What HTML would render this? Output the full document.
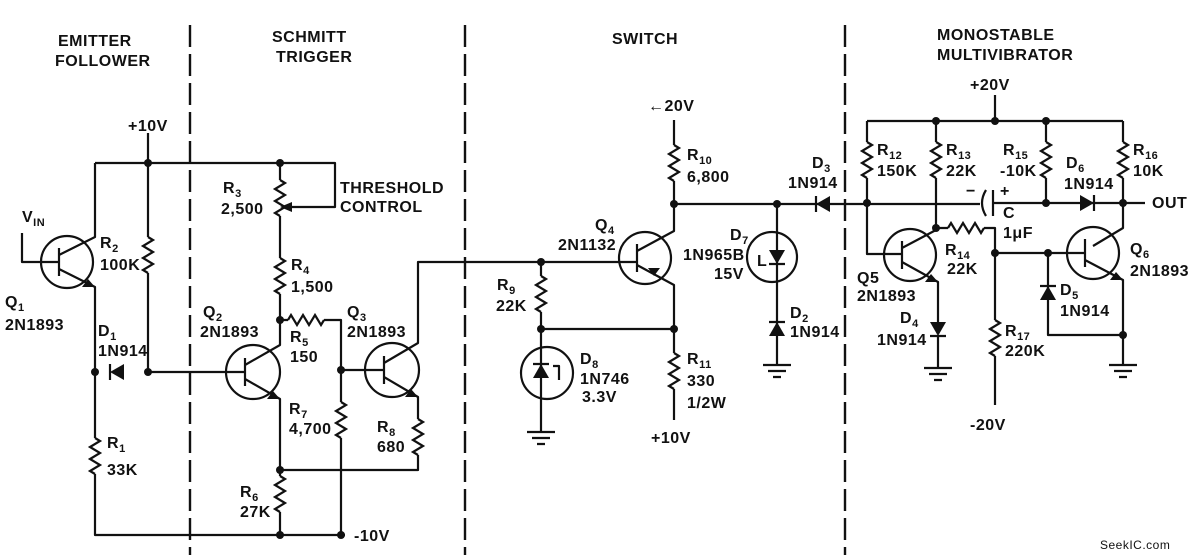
<!DOCTYPE html>
<html><head><meta charset="utf-8"><style>
html,body{margin:0;padding:0;background:#fff;}
svg{display:block}
text{font-family:"Liberation Sans",sans-serif;font-size:16px;font-weight:bold;fill:#111;letter-spacing:0.5px}
.s{font-size:11px}
</style></head><body>
<svg width="1194" height="560" viewBox="0 0 1194 560" xmlns="http://www.w3.org/2000/svg">
<defs>
<path id="rv" d="M0 0 l5 3 l-10 6 l10 6 l-10 6 l10 6 l-10 6 l5 3" fill="none" stroke="#111" stroke-width="2.2"/>
<path id="rh" d="M0 0 l3 -5 l6 10 l6 -10 l6 10 l6 -10 l6 10 l3 -5" fill="none" stroke="#111" stroke-width="2.2"/>
</defs>
<g stroke="#111" stroke-width="2.4" stroke-dasharray="22 7" fill="none">
<line x1="190" y1="25" x2="190" y2="555"/>
<line x1="465" y1="25" x2="465" y2="555"/>
<line x1="845" y1="25" x2="845" y2="555"/>
</g>
<g stroke="#111" stroke-width="2.2" fill="none" stroke-linejoin="round">
<!-- Emitter follower -->
<path d="M148 133 V237 M148 273 V372"/>
<path d="M95 163 H335 V207 H286"/>
<circle cx="67" cy="262" r="26"/>
<path d="M22 233 V262 H59 M59 248 V276 M59 255 L95 237 V163 M59 269 L95 287 V438 M95 474 V535 H345"/>
<path d="M110 364 V380"/>
<!-- Schmitt -->
<circle cx="253" cy="372" r="27"/>
<path d="M148 372 H245 M245 358 V386 M245 365 L280 345 V294 M280 258 V216 M280 180 V163"/>
<path d="M245 379 L280 399 V476 M280 512 V535"/>
<path d="M280 320 H288 M324 320 H341 V402 M341 438 V535"/>
<path d="M280 470 H418 V455"/>
<circle cx="392" cy="370" r="27"/>
<path d="M341 370 H384 M384 356 V384 M384 363 L418 343 V262 H637 M384 377 L418 397 V419"/>
<!-- Switch -->
<path d="M541 262 V276 M541 312 V329 H674"/>
<circle cx="645" cy="258" r="26"/>
<path d="M637 244 V272 M637 251 L674 231 V181 M674 145 V120 M637 265 L674 285 V353 M674 389 V420"/>
<path d="M674 204 H980"/>
<path d="M816 196 V212"/>
<path d="M777 204 V365"/>
<circle cx="772" cy="257" r="25"/>
<path d="M769 264 H785 M769 322 H785"/>
<path d="M763 365 H791 M768 371 H786 M773 377 H781"/>
<circle cx="547" cy="373" r="26"/>
<path d="M541 329 V432 M533 364 H549 M553 366 H559 V380"/>
<path d="M527 432 H555 M532 438 H550 M537 444 H545"/>
<!-- Monostable -->
<path d="M995 95 V121 M867 121 H1123"/>
<path d="M867 121 V142 M867 178 V254 H902"/>
<path d="M936 121 V142 M936 178 V228"/>
<circle cx="910" cy="255" r="26"/>
<path d="M902 241 V269 M902 248 L936 230 M902 262 L938 282 V322 M938 336 V368 M930 336 H946"/>
<path d="M924 368 H952 M929 374 H947 M934 380 H942"/>
<path d="M936 228 H948 M984 228 H995 V320 M995 356 V405 M995 253 H1085"/>
<path d="M986 190 Q978 203 986 216 M993 190 V216 M993 203 H1145"/>
<path d="M1046 121 V142 M1046 178 V203 M1094 195 V211"/>
<path d="M1123 121 V142 M1123 178 V228 L1093 246"/>
<circle cx="1093" cy="253" r="26"/>
<path d="M1085 239 V267 M1085 260 L1123 280 V365 M1048 253 V335 H1123 M1040 286 H1056"/>
<path d="M1109 365 H1137 M1114 371 H1132 M1119 377 H1127"/>
</g>
<!-- resistors -->
<use href="#rv" x="148" y="237"/>
<use href="#rv" x="95" y="438"/>
<use href="#rv" x="280" y="180"/>
<use href="#rv" x="280" y="258"/>
<use href="#rv" x="280" y="476"/>
<use href="#rv" x="341" y="402"/>
<use href="#rv" x="418" y="419"/>
<use href="#rh" x="288" y="320"/>
<use href="#rv" x="541" y="276"/>
<use href="#rv" x="674" y="145"/>
<use href="#rv" x="674" y="353"/>
<use href="#rv" x="867" y="142"/>
<use href="#rv" x="936" y="142"/>
<use href="#rv" x="1046" y="142"/>
<use href="#rv" x="1123" y="142"/>
<use href="#rh" x="948" y="228"/>
<use href="#rv" x="995" y="320"/>
<!-- arrows / diodes / dots -->
<g fill="#111" stroke="none">
<polygon points="280,207 292,202 292,212"/>
<polygon points="95,287 82,287 88,279" />
<polygon points="280,399 267,399 273,391"/>
<polygon points="418,397 405,397 411,389"/>
<polygon points="648,268 660,268 654,276"/>
<polygon points="938,282 925,282 931,274"/>
<polygon points="1123,280 1110,280 1116,272"/>
<polygon points="110,372 124,364 124,380"/>
<polygon points="816,204 830,196 830,212"/>
<polygon points="769,250 785,250 777,264"/>
<polygon points="777,322 769,336 785,336"/>
<polygon points="541,364 533,378 549,378"/>
<polygon points="930,322 946,322 938,336"/>
<polygon points="1080,195 1080,211 1094,203"/>
<polygon points="1048,286 1040,300 1056,300"/>
<circle cx="148" cy="163" r="4"/><circle cx="148" cy="372" r="4"/><circle cx="95" cy="372" r="4"/>
<circle cx="280" cy="163" r="4"/><circle cx="280" cy="320" r="4"/><circle cx="341" cy="370" r="4"/>
<circle cx="280" cy="470" r="4"/><circle cx="280" cy="535" r="4"/><circle cx="341" cy="535" r="4"/>
<circle cx="541" cy="262" r="4"/><circle cx="541" cy="329" r="4"/><circle cx="674" cy="329" r="4"/>
<circle cx="674" cy="204" r="4"/><circle cx="777" cy="204" r="4"/>
<circle cx="936" cy="121" r="4"/><circle cx="995" cy="121" r="4"/><circle cx="1046" cy="121" r="4"/>
<circle cx="867" cy="203" r="4"/><circle cx="1046" cy="203" r="4"/><circle cx="1123" cy="203" r="4"/>
<circle cx="936" cy="228" r="4"/><circle cx="995" cy="253" r="4"/><circle cx="1048" cy="253" r="4"/>
<circle cx="1123" cy="335" r="4"/>
</g>
<!-- headers -->
<text x="58" y="46">EMITTER</text><text x="55" y="66">FOLLOWER</text>
<text x="272" y="42">SCHMITT</text><text x="276" y="62">TRIGGER</text>
<text x="612" y="44">SWITCH</text>
<text x="937" y="40">MONOSTABLE</text><text x="937" y="60">MULTIVIBRATOR</text>
<!-- left labels -->
<text x="128" y="131">+10V</text>
<text x="22" y="222">V<tspan class="s" dy="4">IN</tspan></text>
<text x="100" y="248">R<tspan class="s" dy="4">2</tspan></text><text x="100" y="270">100K</text>
<text x="5" y="307">Q<tspan class="s" dy="4">1</tspan></text><text x="5" y="330">2N1893</text>
<text x="98" y="336">D<tspan class="s" dy="4">1</tspan></text><text x="98" y="356">1N914</text>
<text x="107" y="448">R<tspan class="s" dy="4">1</tspan></text><text x="107" y="475">33K</text>
<text x="223" y="193">R<tspan class="s" dy="4">3</tspan></text><text x="221" y="214">2,500</text>
<text x="340" y="193">THRESHOLD</text><text x="340" y="212">CONTROL</text>
<text x="291" y="270">R<tspan class="s" dy="4">4</tspan></text><text x="291" y="292">1,500</text>
<text x="203" y="317">Q<tspan class="s" dy="4">2</tspan></text><text x="200" y="337">2N1893</text>
<text x="290" y="342">R<tspan class="s" dy="4">5</tspan></text><text x="290" y="362">150</text>
<text x="347" y="317">Q<tspan class="s" dy="4">3</tspan></text><text x="347" y="337">2N1893</text>
<text x="289" y="414">R<tspan class="s" dy="4">7</tspan></text><text x="289" y="434">4,700</text>
<text x="377" y="432">R<tspan class="s" dy="4">8</tspan></text><text x="377" y="452">680</text>
<text x="240" y="497">R<tspan class="s" dy="4">6</tspan></text><text x="240" y="517">27K</text>
<text x="354" y="541">-10V</text>
<!-- switch labels -->
<text x="648" y="111">←20V</text>
<text x="687" y="160">R<tspan class="s" dy="4">10</tspan></text><text x="687" y="182">6,800</text>
<text x="595" y="230">Q<tspan class="s" dy="4">4</tspan></text><text x="558" y="250">2N1132</text>
<text x="497" y="290">R<tspan class="s" dy="4">9</tspan></text><text x="496" y="311">22K</text>
<text x="580" y="364">D<tspan class="s" dy="4">8</tspan></text><text x="580" y="384">1N746</text><text x="582" y="402">3.3V</text>
<text x="687" y="364">R<tspan class="s" dy="4">11</tspan></text><text x="687" y="386">330</text><text x="687" y="408">1/2W</text>
<text x="651" y="443">+10V</text>
<text x="812" y="168">D<tspan class="s" dy="4">3</tspan></text><text x="788" y="188">1N914</text>
<text x="730" y="240">D<tspan class="s" dy="4">7</tspan></text><text x="683" y="260">1N965B</text><text x="714" y="279">15V</text>
<text x="757" y="266">L</text>
<text x="790" y="318">D<tspan class="s" dy="4">2</tspan></text><text x="790" y="337">1N914</text>
<!-- monostable labels -->
<text x="970" y="90">+20V</text>
<text x="877" y="155">R<tspan class="s" dy="4">12</tspan></text><text x="877" y="176">150K</text>
<text x="946" y="155">R<tspan class="s" dy="4">13</tspan></text><text x="946" y="176">22K</text>
<text x="1003" y="155">R<tspan class="s" dy="4">15</tspan></text><text x="1000" y="176">-10K</text>
<text x="1066" y="168">D<tspan class="s" dy="4">6</tspan></text><text x="1064" y="189">1N914</text>
<text x="1133" y="155">R<tspan class="s" dy="4">16</tspan></text><text x="1133" y="176">10K</text>
<text x="966" y="196">−</text><text x="1000" y="196">+</text>
<text x="1003" y="218">C</text><text x="1003" y="238">1μF</text>
<text x="1152" y="208">OUT</text>
<text x="945" y="255">R<tspan class="s" dy="4">14</tspan></text><text x="947" y="274">22K</text>
<text x="857" y="283">Q5</text><text x="857" y="301">2N1893</text>
<text x="900" y="323">D<tspan class="s" dy="4">4</tspan></text><text x="877" y="345">1N914</text>
<text x="1005" y="336">R<tspan class="s" dy="4">17</tspan></text><text x="1005" y="356">220K</text>
<text x="970" y="430">-20V</text>
<text x="1130" y="254">Q<tspan class="s" dy="4">6</tspan></text><text x="1130" y="276">2N1893</text>
<text x="1060" y="295">D<tspan class="s" dy="4">5</tspan></text><text x="1060" y="316">1N914</text>
<text x="1100" y="549" style="font-size:12px;font-weight:normal">SeekIC.com</text>
</svg>
</body></html>
